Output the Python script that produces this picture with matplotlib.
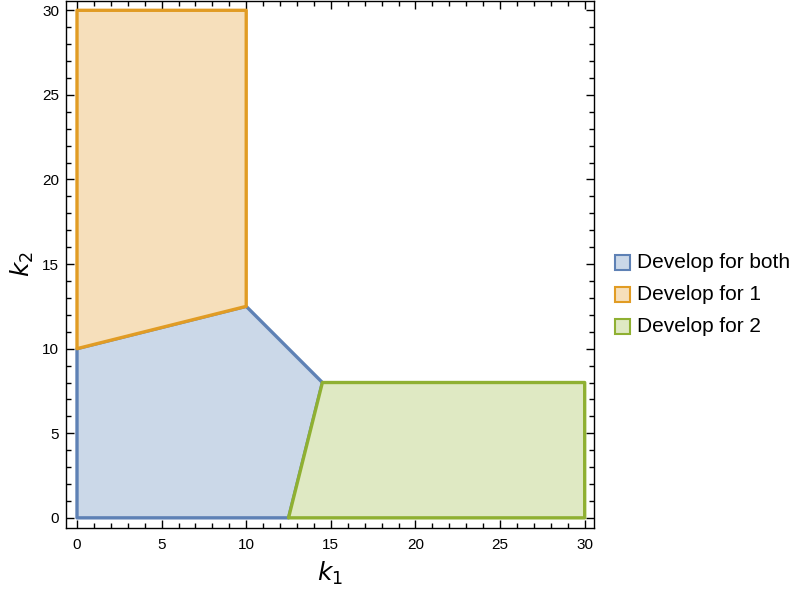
import matplotlib

matplotlib.use("Agg")
import matplotlib.pyplot as plt  # noqa: E402
from matplotlib.patches import Polygon, Rectangle  # noqa: E402
from matplotlib.ticker import MultipleLocator  # noqa: E402

plt.rcParams["font.family"] = ["Liberation Sans", "DejaVu Sans"]

# region vertices (k1, k2)
both_k1 = [0, 12.5, 14.5, 10, 0]
both_k2 = [0, 0, 8, 12.5, 10]
one_k1 = [0, 10, 10, 0]
one_k2 = [10, 12.5, 30, 30]
two_k1 = [12.5, 14.5, 30, 30]
two_k2 = [0, 8, 8, 0]

labels = ["Develop for both", "Develop for 1", "Develop for 2"]
EDGE = ["#5E81B5", "#E19C24", "#8FB032"]
FILL = ["#cbd8e8", "#f6dfbb", "#dfe9c3"]

fig = plt.figure(figsize=(7.96, 5.96), dpi=100)
ax = fig.add_axes([66 / 796, 68 / 596, 528 / 796, 527 / 596])

regions = [(both_k1, both_k2), (one_k1, one_k2), (two_k1, two_k2)]
for (xs, ys), ec, fc in zip(regions, EDGE, FILL):
    ax.add_patch(Polygon(list(zip(xs, ys)), closed=True, facecolor=fc,
                         edgecolor=ec, lw=2.4, joinstyle="round", zorder=2))

ax.set_xlim(-0.65, 30.55)
ax.set_ylim(-0.6, 30.55)
for a in (ax.xaxis, ax.yaxis):
    a.set_major_locator(MultipleLocator(5))
    a.set_minor_locator(MultipleLocator(1))
ax.tick_params(which="both", direction="in", top=True, right=True,
               labeltop=False, labelright=False, labelsize=11, width=1.0, color="black")
ax.tick_params(which="major", length=6)
ax.tick_params(which="minor", length=3.5)
ax.tick_params(axis="x", pad=7)
ax.tick_params(axis="y", pad=5)
for s in ax.spines.values():
    s.set_linewidth(1.0)

ax.set_xlabel("$k_1$", fontsize=18, labelpad=6)
ax.set_ylabel("$k_2$", fontsize=18, labelpad=4)

# legend drawn by hand to the right of the frame
for i, (lab, ec, fc) in enumerate(zip(labels, EDGE, FILL)):
    yc = 1 - (262 + 32 * i) / 596
    fig.patches.append(Rectangle((615 / 796, yc - 8 / 596), 15 / 796, 15 / 596,
                                 transform=fig.transFigure, facecolor=fc,
                                 edgecolor=ec, lw=1.5))
    fig.text(637 / 796, yc, lab, fontsize=15, va="center", ha="left")

fig.savefig("out.png", dpi=100)
